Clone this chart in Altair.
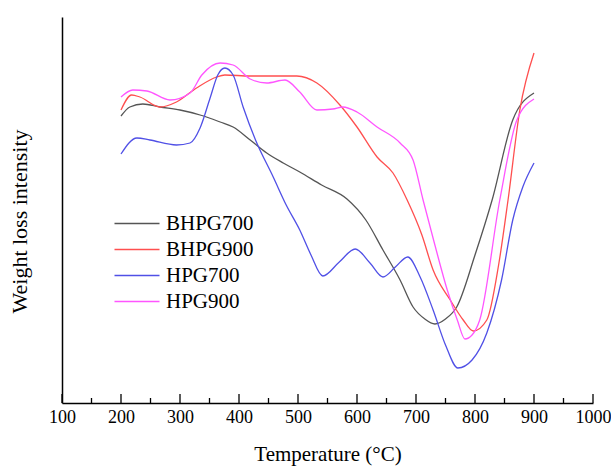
import altair as alt
import pandas as pd

# ---- data ----
series_names = ["BHPG700", "BHPG900", "HPG700", "HPG900"]

bhpg700_T = [200, 215, 237, 266, 300, 334, 368, 390, 419, 447, 475, 503, 540, 583, 615, 644, 673, 695, 715, 732, 750, 769, 800, 829, 864, 900]
bhpg700_v = [287, 296, 299, 296, 293, 288, 281, 276, 263, 250, 240, 231, 218, 204, 183, 153, 123, 96, 84, 79, 84, 96, 148, 203, 283, 310]

bhpg900_T = [200, 218, 232, 266, 294, 328, 362, 376, 419, 460, 498, 532, 571, 600, 634, 661, 685, 710, 729, 758, 780, 797, 820, 840, 856, 876, 900]
bhpg900_v = [293, 308, 306, 296, 301, 315, 326, 328, 327, 327, 327, 320, 298, 276, 246, 230, 203, 168, 133, 103, 83, 72, 83, 138, 203, 293, 350]

hpg700_T = [200, 227, 249, 294, 317, 334, 351, 364, 376, 390, 407, 428, 458, 480, 503, 522, 542, 570, 597, 622, 644, 665, 686, 707, 729, 750, 771, 795, 820, 845, 864, 881, 900]
hpg700_v = [249, 265, 263, 258, 260, 275, 305, 328, 335, 328, 296, 263, 226, 198, 173, 148, 127, 141, 154, 140, 126, 136, 146, 126, 93, 58, 35, 43, 70, 123, 183, 216, 240]

hpg900_T = [200, 220, 244, 283, 317, 337, 368, 390, 419, 447, 478, 503, 532, 559, 576, 600, 634, 673, 695, 712, 732, 753, 770, 783, 795, 808, 842, 871, 900]
hpg900_v = [306, 313, 312, 303, 310, 328, 340, 338, 324, 320, 323, 311, 293, 294, 296, 291, 276, 260, 243, 203, 158, 113, 83, 64, 68, 83, 203, 283, 304]

x_tick_labels = [100, 200, 300, 400, 500, 600, 700, 800, 900, 1000]
x_minor_ticks = [150, 250, 350, 450, 550, 650, 750, 850, 950]

colors = ["#555555", "#ff4f4f", "#5050e6", "#ff55ff"]

rows = []
for name, T, V in zip(series_names,
                      [bhpg700_T, bhpg900_T, hpg700_T, hpg900_T],
                      [bhpg700_v, bhpg900_v, hpg700_v, hpg900_v]):
    for t, v in zip(T, V):
        rows.append({"series": name, "T": t, "v": v})
df = pd.DataFrame(rows)

FONT = "Liberation Serif"

xscale = alt.Scale(domain=[100, 1000], nice=False, zero=False)
yscale = alt.Scale(domain=[0, 386], nice=False, zero=False)

lines = alt.Chart(df).mark_line(interpolate="monotone", strokeWidth=1.3).encode(
    x=alt.X("T:Q", scale=xscale,
            axis=alt.Axis(title="Temperature (°C)", values=x_tick_labels, format="d", ticks=False,
                          grid=False, domainColor="black", domainWidth=1.5, labelFlush=False,
                          labelFont=FONT, labelFontSize=18, labelColor="black",
                          labelPadding=5, titleFont=FONT, titleFontSize=21,
                          titleFontWeight="normal", titleColor="black", titlePadding=17)),
    y=alt.Y("v:Q", scale=yscale,
            axis=alt.Axis(title="Weight loss intensity", ticks=False, labels=False, grid=False,
                          domainColor="black", domainWidth=1.5, titleFont=FONT,
                          titleFontSize=22, titleFontWeight="normal", titleColor="black",
                          titlePadding=31, titleY=204)),
    color=alt.Color("series:N", scale=alt.Scale(domain=series_names, range=colors),
                    legend=alt.Legend(title=None, orient="none", legendX=78, legendY=196,
                                      symbolType="M-4,0H1", symbolSize=324,
                                      symbolStrokeWidth=1.3, labelFont=FONT,
                                      labelFontSize=21, labelColor="black",
                                      labelOffset=5, rowPadding=4)),
    detail="series:N",
)

major = alt.Chart(pd.DataFrame({"T": x_tick_labels})).mark_rule(color="black", strokeWidth=1.3).encode(
    x=alt.X("T:Q", scale=xscale), y=alt.value(386), y2=alt.value(377))
minor = alt.Chart(pd.DataFrame({"T": x_minor_ticks})).mark_rule(color="black", strokeWidth=1.3).encode(
    x=alt.X("T:Q", scale=xscale), y=alt.value(386), y2=alt.value(381))

chart = alt.layer(lines, major, minor).properties(
    width=531, height=386
).configure(
    autosize=alt.AutoSizeParams(type="none"),
    padding={"left": 62, "top": 17, "right": 18, "bottom": 65},
    background="white",
).configure_view(stroke=None)

chart.save("out.html", embed_options={"renderer": "svg", "actions": False})
